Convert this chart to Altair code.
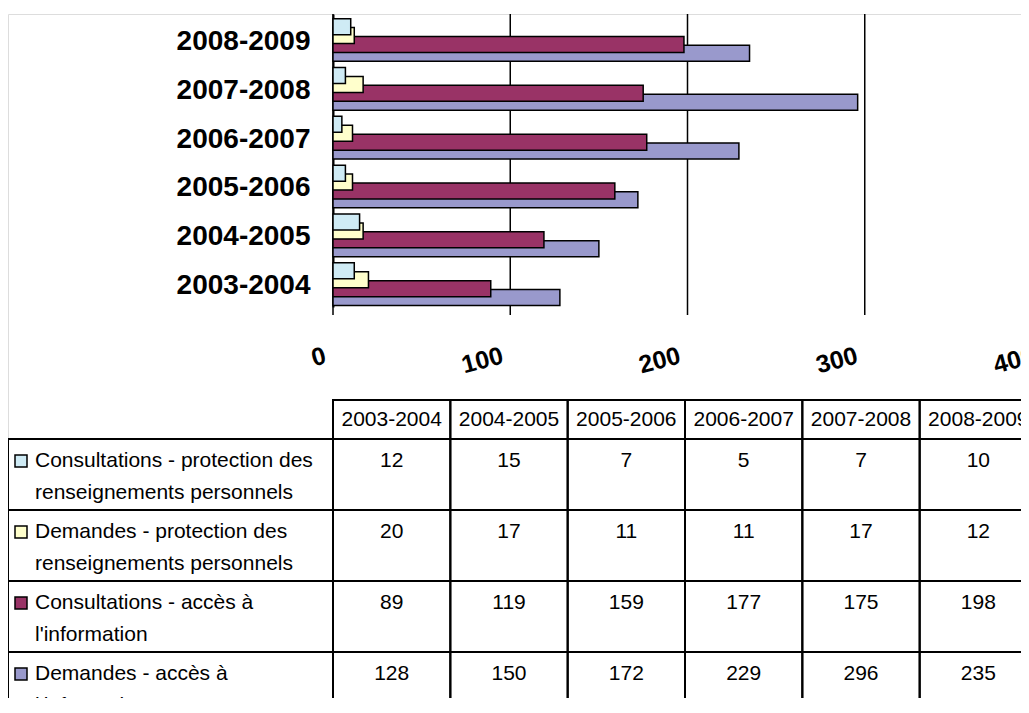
import json
import altair as alt
import pandas as pd

# ---------------- data ----------------
years = ["2003-2004", "2004-2005", "2005-2006", "2006-2007", "2007-2008", "2008-2009"]
series = [
    "Consultations - protection des renseignements personnels",
    "Demandes - protection des renseignements personnels",
    "Consultations - accès à l'information",
    "Demandes - accès à l'information",
]
series_lines = [
    ["Consultations - protection des", "renseignements personnels"],
    ["Demandes - protection des", "renseignements personnels"],
    ["Consultations - accès à", "l'information"],
    ["Demandes - accès à", "l'information"],
]
colors = ["#CFEBF5", "#FFFFCC", "#993366", "#9999CC"]
consult_prp = [12, 15, 7, 5, 7, 10]
demandes_prp = [20, 17, 11, 11, 17, 12]
consult_ai = [89, 119, 159, 177, 175, 198]
demandes_ai = [128, 150, 172, 229, 296, 235]
values = [consult_prp, demandes_prp, consult_ai, demandes_ai]
x_ticks = [0, 100, 200, 300, 400]

FONT = "Liberation Sans"

# ---------------- layout (pixels inside the view) ----------------
VIEW_W, VIEW_H = 1013, 684
AXIS_X = 325                 # position of the value axis origin
PX_PER_UNIT = 1.7725
X_MAX = (VIEW_W - AXIS_X) / PX_PER_UNIT
BAR_H = 293                  # height of the bar panel
TICK_LEN = 8
LABEL_Y = BAR_H + 46
TABLE_TOP = 386
COL_PX = 704 / 6.0
ROW_PX = 71.0

# ---------------- bar chart ----------------
STEP = 0.182   # offset between overlapping bars (category units)
HALF = 0.164   # half bar thickness
SHIFT = 0.033
rows = []
for s in reversed(range(len(series))):  # draw back series first
    for i, yr in enumerate(years):
        c = i + (1.5 - s) * STEP - SHIFT
        rows.append({"series": series[s], "year": yr, "start": 0,
                     "value": values[s][i], "y0": c - HALF, "y1": c + HALF})
bar_df = pd.DataFrame(rows)

label_expr = json.dumps(years) + "[datum.value]"

xb = alt.Scale(domain=[0, X_MAX], range=[AXIS_X, VIEW_W], nice=False, zero=False)
yb = alt.Scale(domain=[-0.5, 5.5], range=[BAR_H, 0], nice=False, zero=False)

bars = alt.Chart(bar_df).mark_rect(stroke="black", strokeWidth=1.5).encode(
    x=alt.X("start:Q", scale=xb,
            axis=alt.Axis(values=x_ticks[:-1], title=None, grid=False, ticks=False,
                          labels=False, domainColor="black", domainWidth=2,
                          offset=BAR_H - VIEW_H)),
    x2="value:Q",
    y=alt.Y("y0:Q", scale=yb,
            axis=alt.Axis(values=list(range(len(years))), labelExpr=label_expr,
                          title=None, ticks=False, grid=False, domainColor="black",
                          domainWidth=2, labelFontSize=28, labelFontWeight="bold",
                          labelFont=FONT, labelColor="black", labelPadding=23,
                          labelOffset=3, labelFlush=False, labelOverlap=False,
                          offset=-AXIS_X)),
    y2="y1:Q",
    color=alt.Color("series:N", scale=alt.Scale(domain=series, range=colors), legend=None),
)

tick_df = pd.DataFrame({"tick": x_ticks})

grid = alt.Chart(tick_df).transform_filter(alt.datum.tick < X_MAX).mark_rule(
    color="black", strokeWidth=1.5, clip=True).encode(
    x=alt.X("tick:Q", scale=xb, axis=None),
    y=alt.value(0), y2=alt.value(BAR_H + TICK_LEN))

xlabels = alt.Chart(tick_df).mark_text(
    font=FONT, fontSize=25, fontWeight="bold", color="black", align="right",
    baseline="middle", angle=345, dx=-8, clip=True).encode(
    x=alt.X("tick:Q", scale=xb, axis=None),
    y=alt.value(LABEL_Y), text=alt.Text("tick:Q", format="d"))

bar_panel = alt.layer(grid, bars, xlabels)

# ---------------- data table ----------------
LBL = AXIS_X / COL_PX       # label column width in column units
HDR = 39 / ROW_PX           # header height in row units
TXT = 22 / ROW_PX           # first text line offset
LINE2 = 32 / ROW_PX

cells, texts, labels, squares = [], [], [], []
for c, yr in enumerate(years):
    cells.append({"x0": c, "x1": c + 1, "y0": 0, "y1": HDR})
    texts.append({"x": c + 0.5, "y": HDR / 2, "t": yr})
for r, name in enumerate(series):
    top = HDR + r
    cells.append({"x0": -LBL, "x1": 0, "y0": top, "y1": top + 1})
    squares.append({"x": -LBL + 13 / COL_PX, "y": top + TXT, "series": name})
    for k, line in enumerate(series_lines[r]):
        labels.append({"x": -LBL + 27 / COL_PX, "y": top + TXT + k * LINE2, "t": line})
    for c in range(len(years)):
        cells.append({"x0": c, "x1": c + 1, "y0": top, "y1": top + 1})
        texts.append({"x": c + 0.5, "y": top + TXT, "t": str(values[r][c])})

xs = alt.Scale(domain=[-LBL, 6], range=[0, AXIS_X + 6 * COL_PX], nice=False, zero=False)
ys = alt.Scale(domain=[0, HDR + 4], range=[TABLE_TOP, TABLE_TOP + ROW_PX * (HDR + 4)],
               nice=False, zero=False)

t_cells = alt.Chart(pd.DataFrame(cells)).mark_rect(
    fill="white", fillOpacity=0, stroke="black", strokeWidth=2, clip=True).encode(
    x=alt.X("x0:Q", scale=xs, axis=None), x2="x1:Q",
    y=alt.Y("y0:Q", scale=ys, axis=None), y2="y1:Q")

t_text = alt.Chart(pd.DataFrame(texts)).mark_text(
    font=FONT, fontSize=21, color="black", align="center", baseline="middle",
    clip=True).encode(
    x=alt.X("x:Q", scale=xs, axis=None), y=alt.Y("y:Q", scale=ys, axis=None), text="t:N")

t_labels = alt.Chart(pd.DataFrame(labels)).mark_text(
    font=FONT, fontSize=21, color="black", align="left", baseline="middle",
    clip=True).encode(
    x=alt.X("x:Q", scale=xs, axis=None), y=alt.Y("y:Q", scale=ys, axis=None), text="t:N")

t_squares = alt.Chart(pd.DataFrame(squares)).mark_point(
    shape="square", size=144, filled=True, stroke="black", strokeWidth=1.5, opacity=1,
    clip=True).encode(
    x=alt.X("x:Q", scale=xs, axis=None), y=alt.Y("y:Q", scale=ys, axis=None),
    fill=alt.Fill("series:N", scale=alt.Scale(domain=series, range=colors), legend=None))

table = alt.layer(t_cells, t_text, t_labels, t_squares)

chart = alt.layer(bar_panel, table).resolve_scale(
    x="independent", y="independent"
).properties(
    width=VIEW_W, height=VIEW_H,
    autosize=alt.AutoSizeParams(type="none"),
    padding={"left": 0, "top": 6, "right": 0, "bottom": 0},
).configure_view(strokeWidth=0).configure(background="white")

chart.save("out.html", embed_options={"renderer": "svg", "actions": False})
